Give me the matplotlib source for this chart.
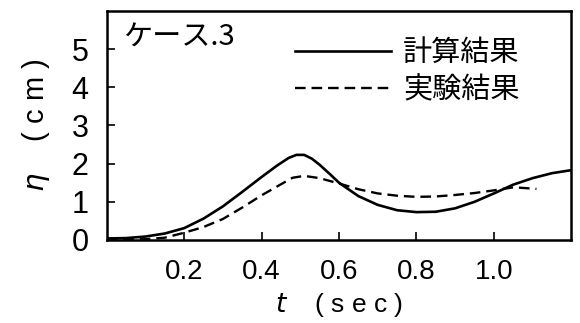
import matplotlib
matplotlib.use("Agg")
import matplotlib.pyplot as plt

# calculated (solid) and experimental (dashed) water surface elevation, case 3
t_calc = [0.0, 0.05, 0.1, 0.15, 0.2, 0.25, 0.3, 0.35, 0.4, 0.44, 0.47, 0.49, 0.51,
          0.53, 0.55, 0.575, 0.6, 0.65, 0.7, 0.75, 0.8, 0.85, 0.9, 0.95,
          1.0, 1.05, 1.1, 1.15, 1.2]
eta_calc = [0.04, 0.05, 0.09, 0.17, 0.31, 0.56, 0.88, 1.26, 1.65, 1.95, 2.15, 2.23, 2.23,
            2.13, 1.97, 1.74, 1.5, 1.15, 0.92, 0.78, 0.73, 0.74, 0.83, 1.0,
            1.22, 1.45, 1.62, 1.75, 1.83]

t_exp = [0.0, 0.05, 0.1, 0.15, 0.2, 0.25, 0.3, 0.35, 0.4, 0.45, 0.48, 0.51, 0.55,
         0.6, 0.65, 0.7, 0.75, 0.8, 0.85, 0.9, 0.95, 1.0, 1.05, 1.11]
eta_exp = [0.02, 0.02, 0.02, 0.06, 0.19, 0.34, 0.55, 0.85, 1.17, 1.46, 1.63, 1.68, 1.62,
           1.48, 1.33, 1.22, 1.16, 1.13, 1.14, 1.18, 1.23, 1.3, 1.38, 1.34]

x_ticks = [0.2, 0.4, 0.6, 0.8, 1.0]
x_ticklabels = ["0.2", "0.4", "0.6", "0.8", "1.0"]
y_ticks = [0, 1, 2, 3, 4, 5]

plt.rcParams["font.family"] = ["Liberation Sans", "Noto Sans CJK JP", "DejaVu Sans"]
jp = ["Noto Sans CJK JP", "DejaVu Sans"]

fig = plt.figure(figsize=(5.8, 3.23), dpi=100)
ax = fig.add_axes([0.184, 0.257, 0.801, 0.709])

ax.plot(t_calc, eta_calc, color="black", lw=1.9, label="計算結果")
ax.plot(t_exp, eta_exp, color="black", lw=1.7, ls=(0, (4.5, 2.5)), label="実験結果")

ax.set_xlim(0, 1.2)
ax.set_ylim(0, 6)
ax.set_xticks(x_ticks)
ax.set_xticklabels(x_ticklabels)
ax.set_yticks(y_ticks)
ax.tick_params(direction="in", length=6, width=1.2)
ax.tick_params(axis="y", labelsize=22, pad=13)
ax.tick_params(axis="x", labelsize=20, pad=14)
for s in ax.spines.values():
    s.set_linewidth(1.8)

ax.set_xlabel(r"$t$    ( s e c )", fontsize=19, labelpad=4)
ax.set_ylabel(r"$\eta$    ( c m )", fontsize=21, labelpad=14)

ax.text(0.035, 0.95, "ケース.3", transform=ax.transAxes, fontsize=21,
        family=jp, va="top", ha="left")

leg = ax.legend(loc="upper right", bbox_to_anchor=(0.945, 0.995), frameon=False,
                prop={"family": jp, "size": 21}, handlelength=3.3,
                handletextpad=0.4, labelspacing=0.25)

fig.savefig("out.png", dpi=100)
